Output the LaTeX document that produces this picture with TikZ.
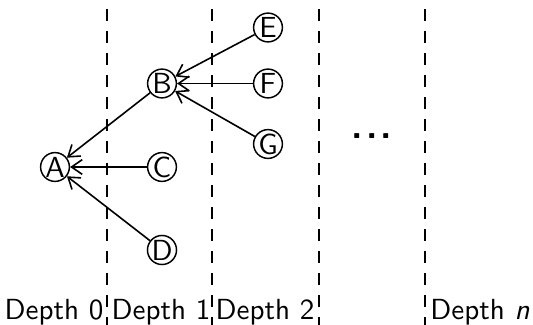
\documentclass[tikz,border=0pt]{standalone}
\usetikzlibrary{arrows.meta}
\begin{document}
\begin{tikzpicture}[x=0.375pt,y=-0.375pt,
  font=\sffamily\fontsize{10.9}{13}\selectfont,
  vertex/.style={circle,draw,line width=0.55pt,inner sep=0pt,minimum size=10.8pt},
  edge/.style={line width=0.6pt,-{Straight Barb[length=4pt,width=5.5pt,line width=0.6pt]}},
  sep/.style={line width=0.75pt,dash pattern=on 4.5pt off 3.75pt},
  lbl/.style={anchor=base}]
\useasboundingbox (0,0) rectangle (533,325);
\coordinate (t1) at (107,9); \coordinate (b1) at (107,325);
\coordinate (t2) at (212,9); \coordinate (b2) at (212,325);
\coordinate (t3) at (319,9); \coordinate (b3) at (319,325);
\coordinate (t4) at (425,9); \coordinate (b4) at (425,325);
\draw[sep] (t1) -- (b1);
\draw[sep] (t2) -- (b2);
\draw[sep] (t3) -- (b3);
\draw[sep] (t4) -- (b4);
\node[vertex] (A) at (55,167) {A};
\node[vertex] (B) at (162,83.5) {B};
\node[vertex] (C) at (162,167) {C};
\node[vertex] (D) at (162,250) {D};
\node[vertex] (E) at (268,27.5) {E};
\node[vertex] (F) at (268,83.5) {F};
\node[vertex] (G) at (268,144) {G};
\draw[edge] (B) -- (A);
\draw[edge] (C) -- (A);
\draw[edge] (D) -- (A);
\draw[edge] (E) -- (B);
\draw[edge] (F) -- (B);
\draw[edge] (G) -- (B);
\node (dots) at (372,136) {\fontsize{14}{16}\selectfont\bfseries .\hspace{1.1pt}.\hspace{1.1pt}.};
\node[lbl] (L0) at (54,319) {Depth 0};
\node[lbl] (L1) at (161,319) {Depth 1};
\node[lbl] (L2) at (265,319) {Depth 2};
\node[lbl] (Ln) at (480,319) {Depth \textit{n}};
\end{tikzpicture}
\end{document}
